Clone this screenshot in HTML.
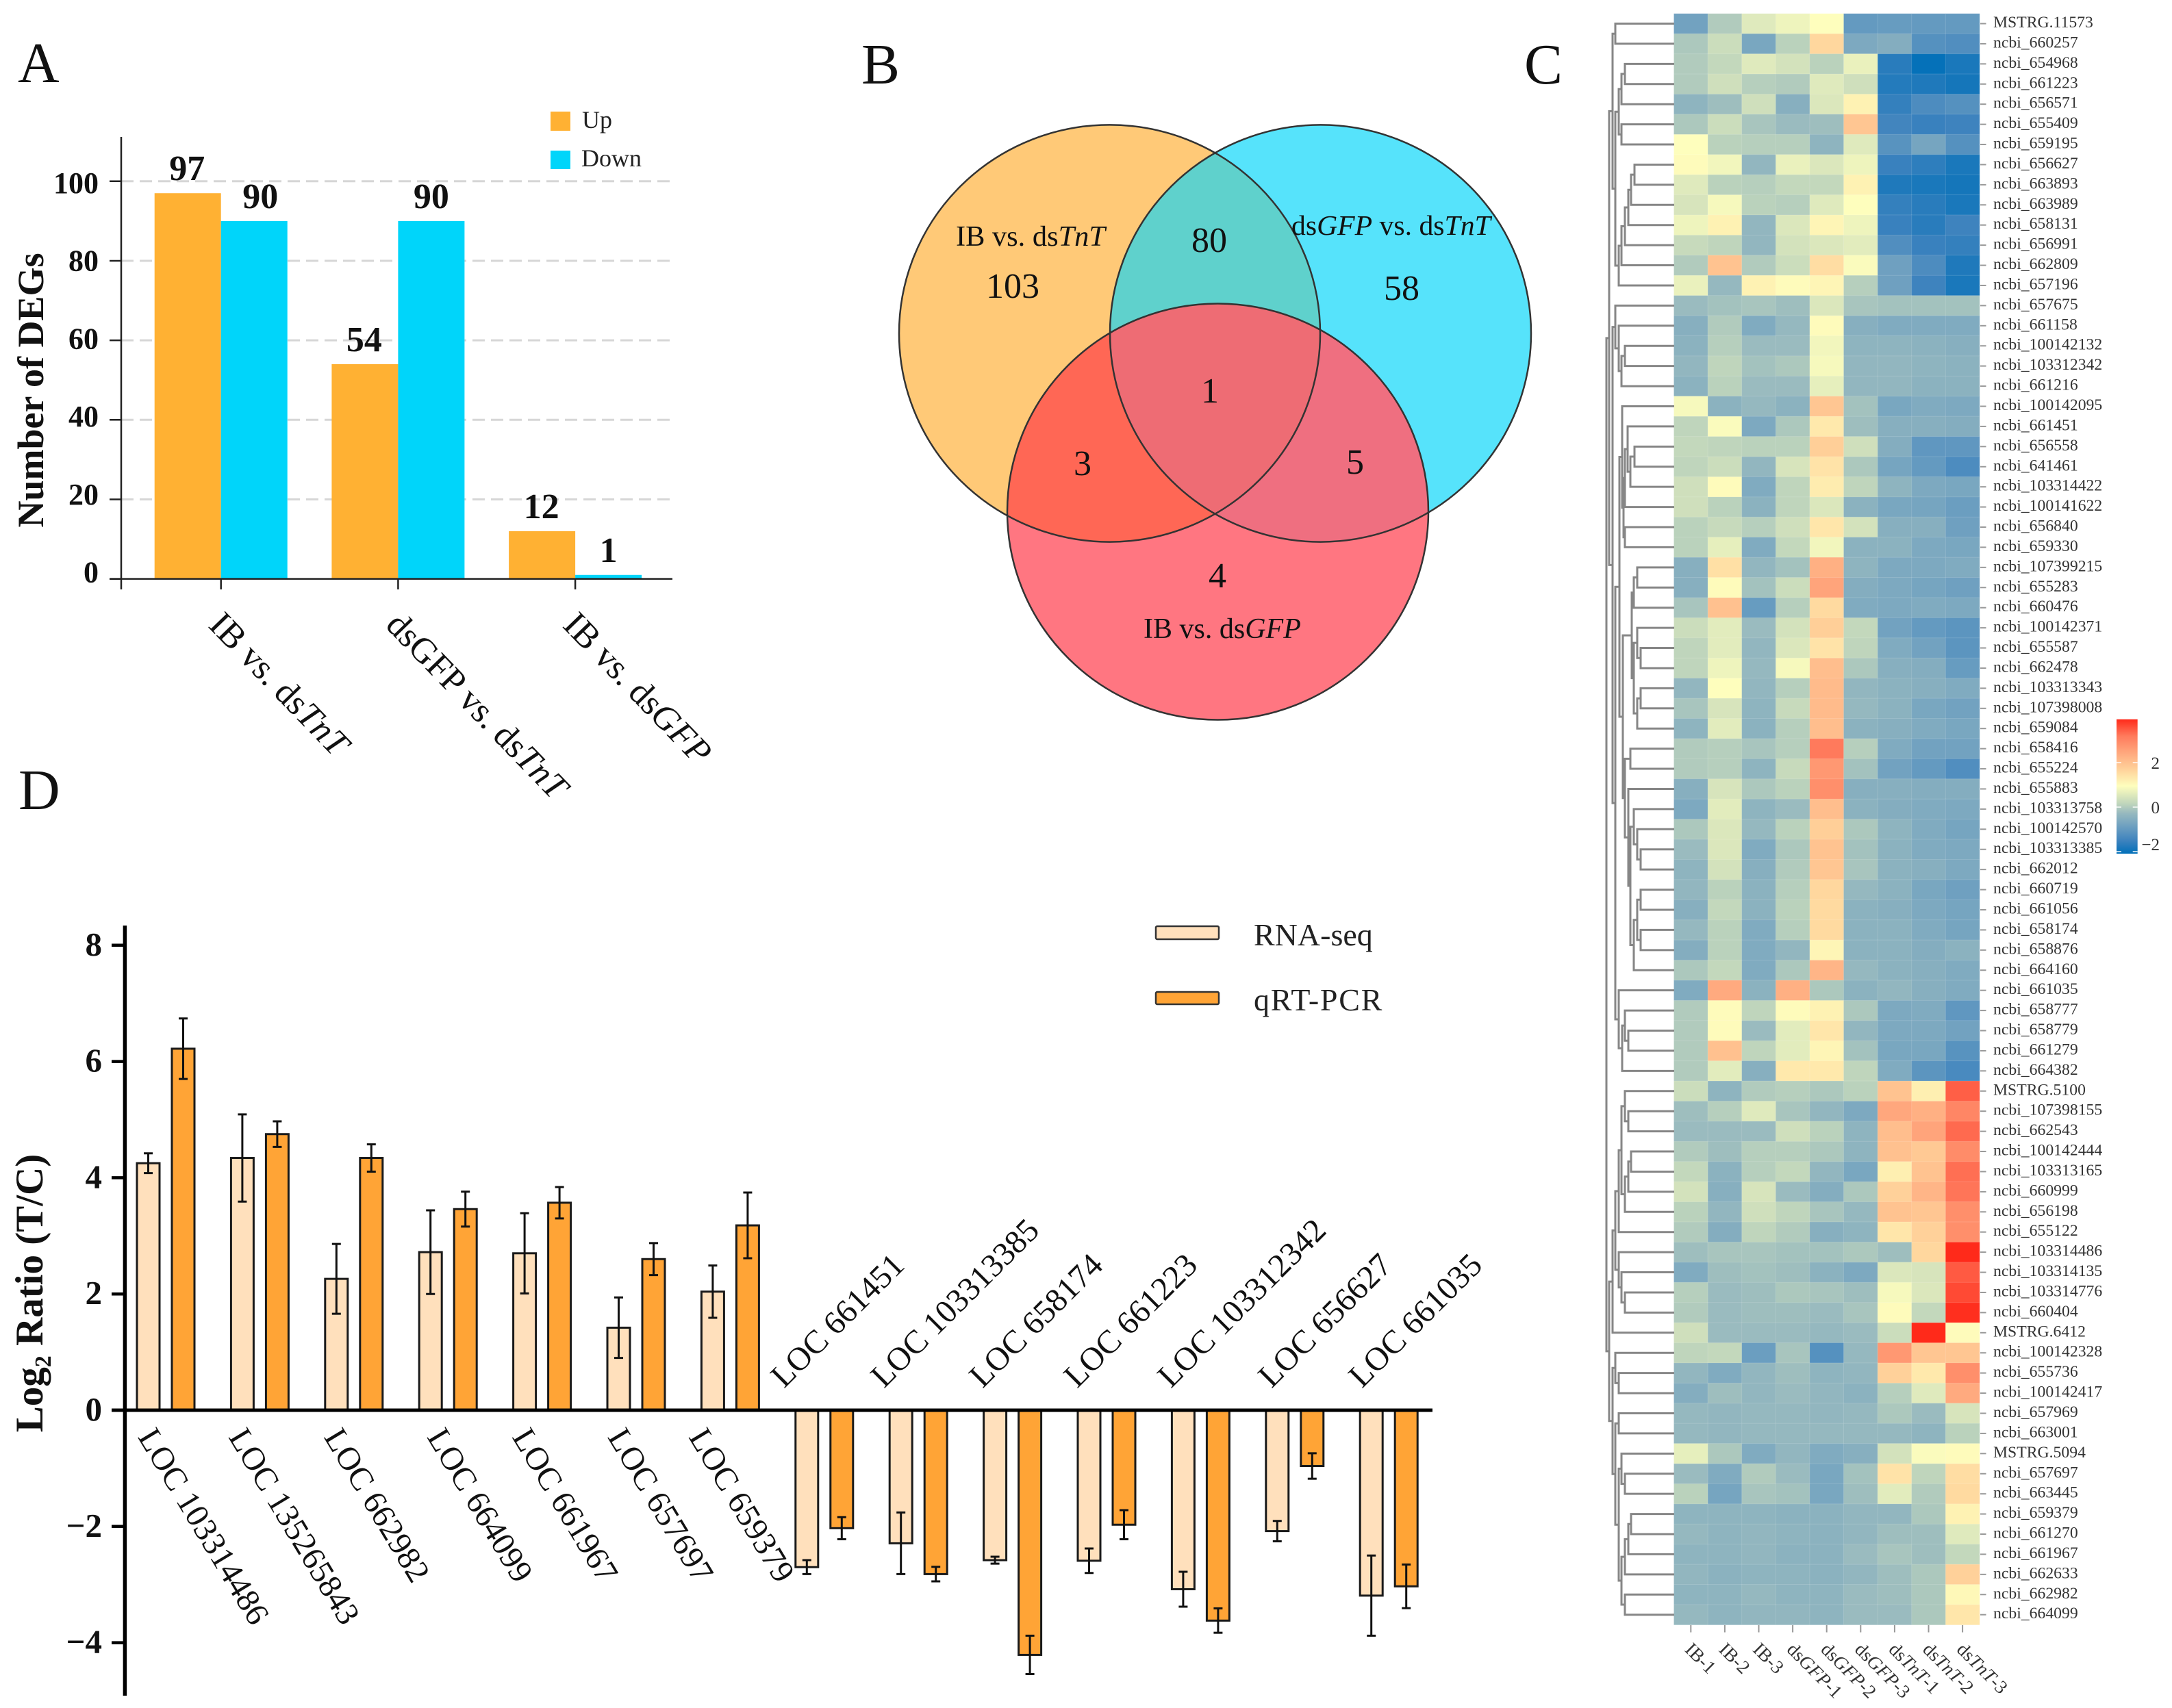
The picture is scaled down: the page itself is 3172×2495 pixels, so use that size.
<!DOCTYPE html>
<html lang="en">
<head>
<meta charset="utf-8">
<title>DEG analysis figure</title>
<style>
html,body{margin:0;padding:0;background:#fff;}
svg{display:block;position:absolute;left:0;top:0;}
text{font-family:"Liberation Serif","Noto Serif CJK SC",serif;}
</style>
</head>
<body>
<svg id="fig" xmlns="http://www.w3.org/2000/svg" width="3172" height="2495" viewBox="0 0 3172 2495">
  <rect x="0" y="0" width="3172" height="2495" fill="#fff"/>
  <text x="26" y="120" font-size="84" fill="#111">A</text>
  <text x="1258" y="122" font-size="84" fill="#111">B</text>
  <text x="2226" y="122" font-size="84" fill="#111">C</text>
  <text x="27" y="1182" font-size="84" fill="#111">D</text>

  <g id="panelA"></g>
  <rect x="804" y="163" width="29" height="28" fill="#FFB133"/>
  <text x="850" y="187" font-size="36" fill="#222">Up</text>
  <rect x="804" y="220" width="29" height="27" fill="#00D5FA"/>
  <text x="849" y="243" font-size="36" fill="#222">Down</text>
  <text transform="translate(63,570) rotate(-90)" text-anchor="middle" font-size="54" font-weight="bold" fill="#111">Number of DEGs</text>

  <g>
    <defs>
      <clipPath id="clipO"><ellipse cx="1620.5" cy="487" rx="307.5" ry="304.6"/></clipPath>
      <clipPath id="clipB"><ellipse cx="1928.5" cy="487" rx="307.5" ry="304.6"/></clipPath>
      <clipPath id="clipR"><ellipse cx="1778.5" cy="747.5" rx="307.5" ry="304"/></clipPath>
    </defs>
    <ellipse cx="1620.5" cy="487" rx="307.5" ry="304.6" fill="#FFC977"/>
    <ellipse cx="1928.5" cy="487" rx="307.5" ry="304.6" fill="#56E3FB"/>
    <g clip-path="url(#clipO)"><ellipse cx="1928.5" cy="487" rx="307.5" ry="304.6" fill="#5FD1CC"/></g>
    <ellipse cx="1778.5" cy="747.5" rx="307.5" ry="304" fill="#FF7681"/>
    <g clip-path="url(#clipO)"><ellipse cx="1778.5" cy="747.5" rx="307.5" ry="304" fill="#FF6755"/></g>
    <g clip-path="url(#clipB)"><ellipse cx="1778.5" cy="747.5" rx="307.5" ry="304" fill="#EF6F80"/></g>
    <g clip-path="url(#clipO)"><g clip-path="url(#clipB)"><ellipse cx="1778.5" cy="747.5" rx="307.5" ry="304" fill="#EE6C74"/></g></g>
    <g fill="none" stroke="#333" stroke-width="2.5">
      <ellipse cx="1620.5" cy="487" rx="307.5" ry="304.6"/>
      <ellipse cx="1928.5" cy="487" rx="307.5" ry="304.6"/>
      <ellipse cx="1778.5" cy="747.5" rx="307.5" ry="304"/>
    </g>
    <g fill="#111">
      <text x="1396" y="359" font-size="42.4">IB vs. ds<tspan font-style="italic">TnT</tspan></text>
      <text x="1886" y="343" font-size="41.7">ds<tspan font-style="italic">GFP</tspan> vs. ds<tspan font-style="italic">TnT</tspan></text>
      <text x="1670" y="932" font-size="42">IB vs. ds<tspan font-style="italic">GFP</tspan></text>
      <g font-size="52" text-anchor="middle">
        <text x="1479" y="435">103</text>
        <text x="1766" y="368">80</text>
        <text x="2047" y="438">58</text>
        <text x="1767" y="588">1</text>
        <text x="1581" y="694">3</text>
        <text x="1979" y="692">5</text>
        <text x="1778" y="858">4</text>
      </g>
    </g>
  </g>

  <g id="panelC"></g>
  <g id="panelD"></g>
  <rect x="1688" y="1353" width="92" height="19" rx="2" fill="#FFE0BC" stroke="#333" stroke-width="2.5"/>
  <text x="1831" y="1381" font-size="46" fill="#222">RNA-seq</text>
  <rect x="1688" y="1449" width="92" height="18" rx="2" fill="#FFA436" stroke="#333" stroke-width="2.5"/>
  <text x="1831" y="1476" font-size="46" letter-spacing="1.7" fill="#222">qRT-PCR</text>
  <text transform="translate(62,1889) rotate(-90)" text-anchor="middle" font-size="57" font-weight="bold" fill="#111">Log<tspan font-size="34" dy="12">2</tspan><tspan dy="-12"> Ratio (T/C)</tspan></text>
</svg>

<script>
/* ---------- Panel A data ---------- */
var degCategories = ['IB vs. ds<tspan font-style="italic">TnT</tspan>', 'dsGFP vs. ds<tspan font-style="italic">TnT</tspan>', 'IB vs. ds<tspan font-style="italic">GFP</tspan>'];
var degUp = [97, 54, 12];
var degDown = [90, 90, 1];
var degTicks = [0, 20, 40, 60, 80, 100];

/* ---------- Panel D data ---------- */
var upGenes = ['LOC 103314486','LOC 135265843','LOC 662982','LOC 664099','LOC 661967','LOC 657697','LOC 659379'];
var downGenes = ['LOC 661451','LOC 103313385','LOC 658174','LOC 661223','LOC 103312342','LOC 656627','LOC 661035'];
var rnaSeq = [4.25,4.34,2.26,2.72,2.70,1.42,2.04,-2.70,-2.29,-2.58,-2.59,-3.08,-2.08,-3.19];
var rnaErr = [0.17,0.75,0.60,0.72,0.69,0.52,0.45,0.12,0.53,0.06,0.21,0.30,0.175,0.69];
var qpcr = [6.22,4.75,4.34,3.46,3.57,2.60,3.18,-2.03,-2.82,-4.21,-1.97,-3.62,-0.96,-3.03];
var qpcrErr = [0.52,0.22,0.235,0.30,0.27,0.275,0.565,0.19,0.125,0.33,0.25,0.21,0.22,0.375];
var ratioTicks = [8,6,4,2,0,-2,-4];

/* ---------- Panel C data ---------- */
var colLabels = ['IB-1','IB-2','IB-3','ds<tspan font-style="italic">GFP</tspan>-1','ds<tspan font-style="italic">GFP</tspan>-2','ds<tspan font-style="italic">GFP</tspan>-3','ds<tspan font-style="italic">TnT</tspan>-1','ds<tspan font-style="italic">TnT</tspan>-2','ds<tspan font-style="italic">TnT</tspan>-3'];
var rowLabels = ['MSTRG.11573','ncbi_660257','ncbi_654968','ncbi_661223','ncbi_656571','ncbi_655409','ncbi_659195','ncbi_656627','ncbi_663893','ncbi_663989','ncbi_658131','ncbi_656991','ncbi_662809','ncbi_657196','ncbi_657675','ncbi_661158','ncbi_100142132','ncbi_103312342','ncbi_661216','ncbi_100142095','ncbi_661451','ncbi_656558','ncbi_641461','ncbi_103314422','ncbi_100141622','ncbi_656840','ncbi_659330','ncbi_107399215','ncbi_655283','ncbi_660476','ncbi_100142371','ncbi_655587','ncbi_662478','ncbi_103313343','ncbi_107398008','ncbi_659084','ncbi_658416','ncbi_655224','ncbi_655883','ncbi_103313758','ncbi_100142570','ncbi_103313385','ncbi_662012','ncbi_660719','ncbi_661056','ncbi_658174','ncbi_658876','ncbi_664160','ncbi_661035','ncbi_658777','ncbi_658779','ncbi_661279','ncbi_664382','MSTRG.5100','ncbi_107398155','ncbi_662543','ncbi_100142444','ncbi_103313165','ncbi_660999','ncbi_656198','ncbi_655122','ncbi_103314486','ncbi_103314135','ncbi_103314776','ncbi_660404','MSTRG.6412','ncbi_100142328','ncbi_655736','ncbi_100142417','ncbi_657969','ncbi_663001','MSTRG.5094','ncbi_657697','ncbi_663445','ncbi_659379','ncbi_661270','ncbi_661967','ncbi_662633','ncbi_662982','ncbi_664099'];
var heatValues = [
[-0.8,0,0.55,0.75,0.95,-1,-0.95,-1,-1],
[-0.05,0.3,-0.7,0.1,1.6,-0.65,-0.55,-1.2,-1.25],
[0,0.2,0.55,0.4,0.1,0.7,-1.7,-2.05,-1.85],
[0,0.35,0.05,0,0.55,0.35,-1.75,-1.8,-1.9],
[-0.4,-0.2,0.35,-0.5,0.5,1.15,-1.6,-1.3,-1.2],
[-0.05,0.3,-0.1,-0.25,-0.2,1.9,-1.45,-1.55,-1.5],
[0.95,0.1,0.05,0.05,-0.4,0.55,-1.15,-0.75,-1.2],
[1,0.8,-0.35,0.7,0.5,0.75,-1.55,-1.65,-1.85],
[0.55,0.1,0.05,0.2,0.2,1.15,-1.8,-1.85,-1.9],
[0.45,0.85,0.1,0.05,0.55,0.95,-1.6,-1.7,-1.85],
[0.75,1.15,-0.35,0.5,1.1,0.75,-1.55,-1.7,-1.5],
[0.25,0.15,-0.35,0.4,0.5,0.6,-1.25,-1.55,-1.6],
[0,1.95,0,0.3,1.5,0.9,-0.85,-1.3,-1.8],
[0.7,-0.3,1.15,1,1.1,0.05,-0.85,-1.5,-1.85],
[-0.25,-0.15,-0.1,-0.2,0.5,-0.1,-0.15,-0.15,-0.15],
[-0.5,0,-0.6,-0.3,1,-0.5,-0.6,-0.6,-0.6],
[-0.45,0.05,-0.25,-0.25,0.8,-0.4,-0.4,-0.45,-0.5],
[-0.35,0.15,-0.15,-0.05,0.85,-0.35,-0.35,-0.4,-0.45],
[-0.45,0.1,-0.25,-0.25,0.65,-0.35,-0.35,-0.45,-0.45],
[0.85,-0.45,-0.3,-0.45,1.9,-0.15,-0.7,-0.6,-0.65],
[0.15,0.9,-0.65,-0.05,1.3,-0.2,-0.5,-0.5,-0.55],
[0.2,0.15,0.1,0.1,1.75,0.35,-0.55,-1.05,-1.05],
[0.15,0.3,-0.35,0.45,1.4,-0.05,-0.75,-1,-1.3],
[0.35,1,-0.6,0.15,1.25,0.15,-0.4,-0.65,-0.7],
[0.35,0.1,-0.45,0.15,0.5,-0.45,-0.7,-0.75,-0.9],
[0.1,0.25,0.05,0.35,1.35,0.4,-0.5,-0.5,-0.85],
[0.1,0.65,-0.6,0.2,0.8,-0.45,-0.45,-0.65,-0.7],
[-0.5,1.45,-0.35,-0.15,2.3,-0.4,-0.65,-0.65,-0.6],
[-0.5,1,-0.15,0.3,2.5,-0.55,-0.65,-0.75,-0.85],
[-0.1,2,-0.95,0.05,1.55,-0.6,-0.65,-0.6,-0.65],
[0.3,0.6,-0.25,0.4,1.75,0.2,-0.8,-1,-1.1],
[0.15,0.6,-0.35,0.5,1.4,0.15,-0.6,-0.8,-1.1],
[0.15,0.75,-0.3,0.85,2.05,-0.05,-0.5,-0.55,-0.95],
[-0.35,0.95,-0.35,0.05,2.1,-0.35,-0.45,-0.5,-0.6],
[-0.1,0.45,-0.4,0.25,2.1,-0.3,-0.45,-0.7,-0.8],
[-0.4,0.6,-0.45,0.05,2.05,-0.45,-0.5,-0.6,-0.7],
[0,0.05,-0.1,0.05,3.2,0.05,-0.6,-0.8,-0.8],
[0,0.05,-0.4,0.25,2.7,-0.15,-0.8,-1,-1.25],
[-0.5,0.45,-0.05,0.1,2.85,-0.5,-0.5,-0.55,-0.55],
[-0.65,0.6,-0.4,-0.25,2.05,-0.45,-0.55,-0.6,-0.65],
[-0.05,0.5,-0.3,0.1,1.75,-0.05,-0.4,-0.6,-0.75],
[-0.25,0.5,-0.6,-0.05,1.95,-0.15,-0.45,-0.6,-0.65],
[-0.4,0.4,-0.5,0,1.9,-0.1,-0.45,-0.5,-0.65],
[-0.35,0.1,-0.45,0.05,1.6,-0.3,-0.45,-0.7,-0.85],
[-0.5,0.2,-0.45,0.1,1.55,-0.45,-0.5,-0.65,-0.75],
[-0.3,0.1,-0.6,0.05,1.55,-0.45,-0.45,-0.6,-0.75],
[-0.55,0.1,-0.6,-0.35,1.1,-0.45,-0.45,-0.55,-0.45],
[-0.05,0.2,-0.6,-0.05,2.2,-0.3,-0.45,-0.5,-0.6],
[-0.6,2.4,-0.45,2.3,-0.05,-0.45,-0.35,-0.5,-0.6],
[0,1,0.15,1,1.15,-0.05,-0.65,-0.6,-1.05],
[0,1,-0.25,0.6,1.35,-0.35,-0.65,-0.65,-0.8],
[0,2,0.15,0.6,1.1,-0.15,-0.7,-0.7,-1.15],
[0,0.6,-0.5,1.3,1.3,0.15,-0.6,-1.1,-1.35],
[0.3,-0.4,0,0.05,-0.05,0.1,1.95,1.2,3.45],
[-0.2,0.05,0.55,-0.1,-0.35,-0.65,2.45,2.3,3],
[-0.25,-0.25,-0.25,0.35,0.1,-0.4,2.05,2.5,3.35],
[0,-0.2,0.05,0.05,-0.05,-0.4,2,1.85,2.9],
[0.2,-0.45,0.05,0.2,-0.35,-0.7,1.2,1.95,3.3],
[0.4,-0.5,0.45,-0.25,-0.55,-0.05,1.7,2.2,3.25],
[0.1,-0.35,0.35,0.15,-0.1,-0.3,1.95,1.9,2.85],
[0,-0.55,0.15,0,-0.5,-0.4,1.35,1.7,2.85],
[-0.2,-0.1,-0.1,-0.15,-0.15,-0.05,-0.2,1.6,3.95],
[-0.6,-0.2,-0.15,-0.2,-0.45,-0.65,0.5,0.45,3.5],
[0.05,-0.25,-0.2,-0.05,-0.1,-0.2,0.85,0.5,3.65],
[0,-0.25,-0.2,-0.2,-0.25,-0.1,1,0.2,3.9],
[0.35,-0.25,-0.25,-0.25,-0.3,-0.25,0.3,3.95,1],
[0.15,0.2,-0.9,-0.1,-1.2,-0.3,2.7,1.9,1.9],
[-0.35,-0.6,-0.35,-0.2,-0.4,-0.35,1.7,1.3,2.85],
[-0.55,-0.2,-0.35,-0.25,-0.35,-0.45,0.05,0.55,2.4],
[-0.3,-0.35,-0.3,-0.3,-0.35,-0.3,-0.05,-0.25,0.45],
[-0.3,-0.35,-0.3,-0.3,-0.3,-0.3,-0.3,-0.4,0.1],
[0.65,-0.05,-0.6,-0.35,-0.6,-0.5,0.4,0.9,1],
[-0.25,-0.6,0,-0.25,-0.7,-0.15,1.4,0.15,1.5],
[0.1,-0.75,-0.1,-0.15,-0.7,-0.2,0.6,0,1.55],
[-0.4,-0.4,-0.4,-0.45,-0.45,-0.35,-0.35,-0.05,1.15],
[-0.3,-0.4,-0.35,-0.4,-0.45,-0.35,-0.2,-0.2,0.55],
[-0.4,-0.4,-0.35,-0.45,-0.45,-0.25,-0.1,-0.2,0.2],
[-0.35,-0.45,-0.4,-0.4,-0.45,-0.35,-0.2,-0.05,1.7],
[-0.4,-0.4,-0.3,-0.4,-0.4,-0.25,-0.2,-0.05,1.05],
[-0.3,-0.4,-0.35,-0.35,-0.4,-0.25,-0.25,-0.05,1.35]
];
var colorStops = [-2.05,-1.5,-0.9,-0.3,0.15,0.95,1.6,2.4,3.2,3.95];
var colorRamp = [[5,113,185],[62,131,190],[107,158,192],[149,184,191],[191,213,188],[254,254,189],[255,215,158],[255,170,127],[255,122,92],[255,42,26]];
var colorbarTicks = [2,0,-2];
/* dendrogram: [merge height, child, child]; leaves are 1-based row numbers */
var dendroTree = [99,
 [95,
  [90,[86,1,2],[86,[81,[77,[72,3,4],5],[77,6,7]],[81,[77,[72,[67,[63,[58,8,9],10],11],12],13],14]]],
  [90,[86,15,[81,16,[77,[72,17,18],19]]],
   [86,
    [80,
     [76,20,[74,[72,[68,21,[64,[58,22,23],24]],25],[72,26,27]]],
     [75,
      [62,[59,[54,28,29],30],[59,[54,31,[49,32,33]],[54,[49,34,35],36]]],
      [72,[64,37,38],[67,39,[64,[59,40,[54,41,[49,42,43]]],[59,[54,[49,44,45],[49,46,47]],48]]]]
     ]
    ],
    [81,49,[76,[72,50,[67,51,52]],53]]
   ]
  ]
 ],
 [95,
  [90,[86,[81,[77,[72,54,[67,55,56]],[72,[67,[63,57,58],59],60]],61],[81,62,[77,63,[72,64,65]]]],66],
  [90,[86,67,[81,68,69]],[86,[81,70,71],[81,[77,72,[72,73,74]],[77,[72,[67,[63,75,76],77],78],[72,79,80]]]]]
 ]
];

var NS = 'http://www.w3.org/2000/svg';
function mk(tag, parent, props, content) {
  var el = document.createElementNS(NS, tag);
  for (var k in props) { el.setAttribute(k, props[k]); }
  if (content !== undefined) { el.innerHTML = content; }
  parent.appendChild(el);
  return el;
}

/* ========== Panel A ========== */
(function () {
  var g = document.getElementById('panelA');
  function yA(v) { return 845.6 - 5.808 * v; }
  function xA(i) { return 322.7 + 258.7 * i; }
  var barW = 97;
  degTicks.forEach(function (t) {
    if (t > 0) {
      var grid = mk('line', g, {x1: 177, x2: 982, y1: yA(t), y2: yA(t), stroke: '#d6d6d6', 'stroke-width': 3, 'stroke-dasharray': '18 9'});
      
      
    }
    var tick = mk('line', g, {x1: 160, x2: 177, y1: yA(t), y2: yA(t), stroke: '#222', 'stroke-width': 2.5});
    
    
    var lab = mk('text', g, {x: 144, y: yA(t) + 5 + t * 0.12, 'text-anchor': 'end', 'font-size': 44, 'font-weight': 'bold', fill: '#111'}, String(t));
    
    
  });
  degCategories.forEach(function (c, i) {
    var up = mk('rect', g, {x: xA(i) - barW, y: yA(degUp[i]), width: barW, height: yA(0) - yA(degUp[i]), fill: '#FFB133'});
    
    
    var dn = mk('rect', g, {x: xA(i), y: yA(degDown[i]), width: barW, height: yA(0) - yA(degDown[i]), fill: '#00D5FA'});
    
    
    var upv = mk('text', g, {x: xA(i) - barW / 2 - 1, y: yA(degUp[i]) - 19, 'text-anchor': 'middle', 'font-size': 52, 'font-weight': 'bold', fill: '#111'}, String(degUp[i]));
    
    
    var dnv = mk('text', g, {x: xA(i) + barW / 2 + (i === 0 ? 9 : 0), y: yA(degDown[i]) - 19, 'text-anchor': 'middle', 'font-size': 52, 'font-weight': 'bold', fill: '#111'}, String(degDown[i]));
    
    
    var tk = mk('line', g, {x1: xA(i), x2: xA(i), y1: yA(0), y2: 861, stroke: '#222', 'stroke-width': 2.5});
    
    
    var lx = xA(i) - 20;
    var lb = mk('text', g, {transform: 'translate(' + lx + ',915) rotate(46)', 'font-size': 52, fill: '#111'}, c);
    
    
  });
  var xaxis = mk('line', g, {x1: 160, x2: 982, y1: yA(0), y2: yA(0), stroke: '#222', 'stroke-width': 2.5});
  
  
  var yaxis = mk('line', g, {x1: 177, x2: 177, y1: 200, y2: 861, stroke: '#222', 'stroke-width': 2.5});
  
  
})();

/* ========== Panel C ========== */
(function () {
  var g = document.getElementById('panelC');
  var left = 2444.5, colW = 49.6, top = 19.8, rowH = 29.42;
  function xH(c) { return left + colW * c; }
  function yH(r) { return top + rowH * r; }
  function colorOf(v) {
    var n = colorStops.length;
    if (v <= colorStops[0]) { return 'rgb(' + colorRamp[0].join(',') + ')'; }
    if (v >= colorStops[n - 1]) { return 'rgb(' + colorRamp[n - 1].join(',') + ')'; }
    for (var i = 0; i < n - 1; i++) {
      if (v <= colorStops[i + 1]) {
        var t = (v - colorStops[i]) / (colorStops[i + 1] - colorStops[i]);
        var a = colorRamp[i], b = colorRamp[i + 1];
        return 'rgb(' + Math.round(a[0] + (b[0] - a[0]) * t) + ',' + Math.round(a[1] + (b[1] - a[1]) * t) + ',' + Math.round(a[2] + (b[2] - a[2]) * t) + ')';
      }
    }
  }
  heatValues.forEach(function (row, r) {
    row.forEach(function (v, c) {
      var cell = mk('rect', g, {x: xH(c), y: yH(r), width: colW + 0.3, height: rowH + 0.3, fill: colorOf(v), stroke: 'rgba(255,255,255,0.12)', 'stroke-width': 1});
      
      
    });
    var yc = yH(r) + rowH / 2;
    var tk = mk('line', g, {x1: 2892, x2: 2900.5, y1: yc, y2: yc, stroke: '#999', 'stroke-width': 2});
    
    
    var lb = mk('text', g, {x: 2911, y: yc + 5.5, 'font-size': 23.7, fill: '#333'}, rowLabels[r]);
    
    
  });
  colLabels.forEach(function (c, i) {
    var xc = xH(i) + colW / 2;
    var tk = mk('line', g, {x1: xc, x2: xc, y1: 2374, y2: 2384.5, stroke: '#999', 'stroke-width': 2});
    
    
    var lb = mk('text', g, {transform: 'translate(' + (xc - 10) + ',2411) rotate(45)', 'font-size': 27.5, fill: '#333'}, c);
    
    
  });
  /* dendrogram */
  function xD(h) { return 2445 - h; }
  function drawNode(node) {
    if (typeof node === 'number') {
      return {x: xD(0), y: yH(node - 1) + rowH / 2};
    }
    var a = drawNode(node[1]);
    var b = drawNode(node[2]);
    var mx = xD(node[0]);
    var p = mk('path', g, {d: 'M' + a.x + ' ' + a.y + 'H' + mx + 'V' + b.y + 'H' + b.x, fill: 'none', stroke: '#868686', 'stroke-width': 3});
    
    
    return {x: mx, y: (a.y + b.y) / 2};
  }
  drawNode(dendroTree);
  /* colour bar */
  var defs = mk('defs', g, {});
  var grad = mk('linearGradient', defs, {id: 'cbGrad', x1: 0, y1: 1, x2: 0, y2: 0});
  var cbBottom = 1247, cbTop = 1050.7;
  function yC(v) { return 1179 - 32.5 * v; }
  colorStops.forEach(function (s, i) {
    mk('stop', grad, {offset: (cbBottom - yC(s)) / (cbBottom - cbTop), 'stop-color': 'rgb(' + colorRamp[i].join(',') + ')'});
  });
  var bar = mk('rect', g, {x: 3091, y: cbTop, width: 30.7, height: cbBottom - cbTop, fill: 'url(#cbGrad)'});
  
  
  colorbarTicks.forEach(function (t) {
    var m1 = mk('line', g, {x1: 3091, x2: 3098, y1: yC(t), y2: yC(t), stroke: '#fff', 'stroke-opacity': 0.7, 'stroke-width': 2});
    
    
    var m2 = mk('line', g, {x1: 3114.7, x2: 3121.7, y1: yC(t), y2: yC(t), stroke: '#fff', 'stroke-opacity': 0.7, 'stroke-width': 2});
    
    
    var lb = mk('text', g, {x: 3154, y: yC(t) + (t === -2 ? -2 : 9), 'text-anchor': 'end', 'font-size': 25, fill: '#333'}, String(t).replace('-', '\u2212'));
    
    
  });
})();

/* ========== Panel D ========== */
(function () {
  var g = document.getElementById('panelD');
  function yD(v) { return 2060 - 84.9 * v; }
  function xD(i) { return 216.5 + 137.4 * i; }
  var barW = 33, offset = 51, cap = 6.5;
  var upNudge = [-16, -21, -19, -6, -19, -17, -36];
  var downStart = [1145, 1291, 1435, 1573, 1710, 1857, 1989];
  function drawBar(i, v, e, dx, fill, nm) {
    var cx = xD(i) + dx;
    var r = mk('rect', g, {x: cx - barW / 2, y: Math.min(yD(v), yD(0)), width: barW, height: Math.abs(yD(v) - yD(0)), fill: fill, stroke: '#1a1a1a', 'stroke-width': 3});
    
    
    var w = mk('path', g, {d: 'M' + (cx - cap) + ' ' + yD(v + e) + 'H' + (cx + cap) + 'M' + cx + ' ' + yD(v + e) + 'V' + yD(v - e) + 'M' + (cx - cap) + ' ' + yD(v - e) + 'H' + (cx + cap), fill: 'none', stroke: '#111', 'stroke-width': 3});
    
    
  }
  rnaSeq.forEach(function (v, i) {
    drawBar(i, v, rnaErr[i], 0, '#FFE0BC', 'rna-seq');
    drawBar(i, qpcr[i], qpcrErr[i], offset, '#FFA436', 'qrt-pcr');
  });
  ratioTicks.forEach(function (t) {
    var tk = mk('line', g, {x1: 163, x2: 182, y1: yD(t), y2: yD(t), stroke: '#000', 'stroke-width': 4.5});
    
    
    var lb = mk('text', g, {x: 149, y: yD(t) + 15, 'text-anchor': 'end', 'font-size': 49, 'font-weight': 'bold', fill: '#111'}, String(t).replace('-', '\u2212'));
    
    
  });
  var base = mk('line', g, {x1: 163, x2: 2092, y1: yD(0), y2: yD(0), stroke: '#000', 'stroke-width': 5});
  
  
  var ax = mk('line', g, {x1: 182.4, x2: 182.4, y1: 1352, y2: 2477, stroke: '#000', 'stroke-width': 5.5});
  
  
  upGenes.forEach(function (n, i) {
    var lb = mk('text', g, {transform: 'translate(' + (xD(i) + upNudge[i]) + ',2099) rotate(59)', 'font-size': 48, fill: '#111'}, n);
    
    
  });
  downGenes.forEach(function (n, i) {
    var lb = mk('text', g, {transform: 'translate(' + downStart[i] + ',2029) rotate(-45)', 'font-size': 48, fill: '#111'}, n);
    
    
  });
})();
</script>
</body>
</html>
